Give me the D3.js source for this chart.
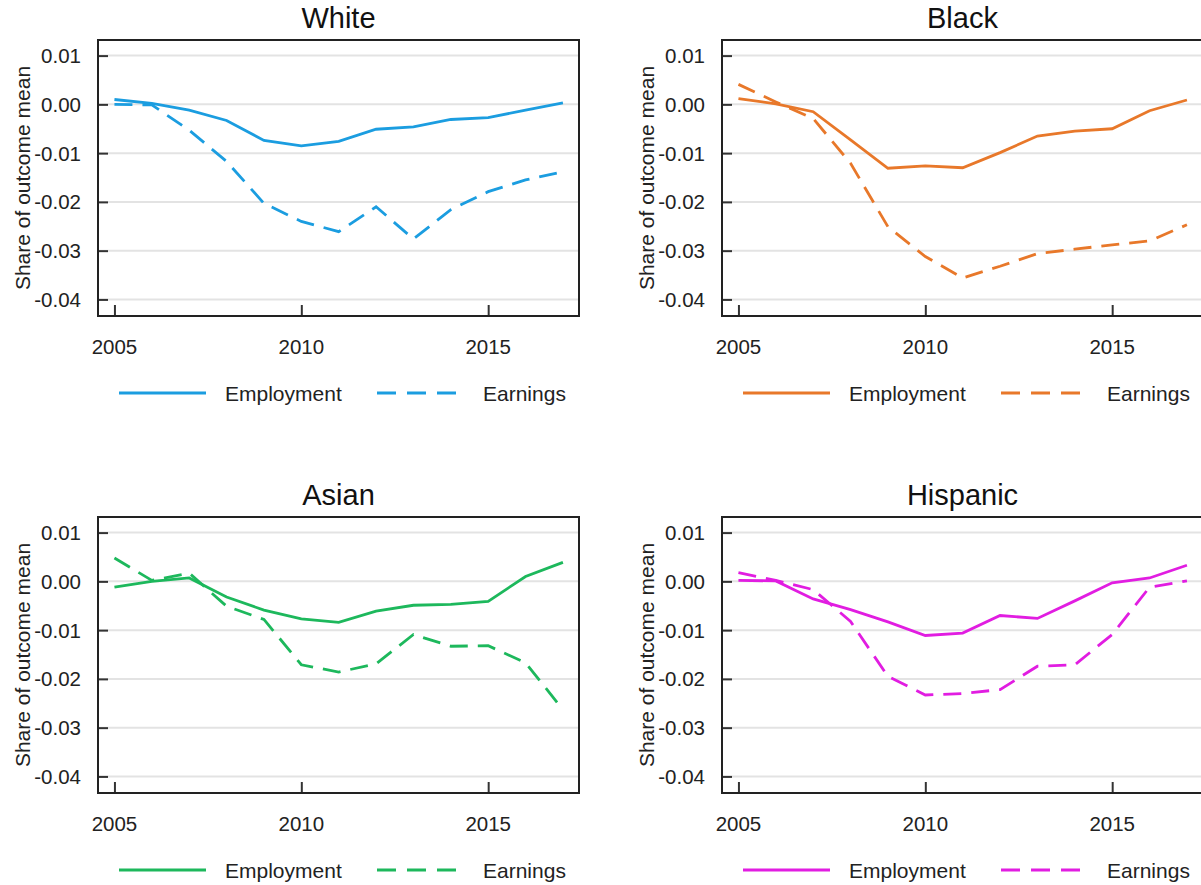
<!DOCTYPE html>
<html>
<head>
<meta charset="utf-8">
<script src="https://cdn.jsdelivr.net/npm/d3@7"></script>
<style>
  body { margin: 0; background: #fff; }
  svg { display: block; font-family: "Liberation Sans", Arial, sans-serif; }
</style>
</head>
<body>
<div class="chart"></div>
<script>
// data
var years = [2005, 2006, 2007, 2008, 2009, 2010, 2011, 2012, 2013, 2014, 2015, 2016, 2017];
var groups = ["White", "Black", "Asian", "Hispanic"];
var seriesNames = ["Employment", "Earnings"];
var xTicks = [2005, 2010, 2015];
var yTicks = [0.01, 0.00, -0.01, -0.02, -0.03, -0.04];

var whiteEmployment = [0.0010, 0.0002, -0.0012, -0.0033, -0.0074, -0.0085, -0.0076, -0.0051, -0.0046, -0.0031, -0.0027, -0.0012, 0.0003];
var whiteEarnings   = [0.0000, -0.0001, -0.0053, -0.0117, -0.0203, -0.0240, -0.0261, -0.0210, -0.0276, -0.0216, -0.0179, -0.0155, -0.0138];
var blackEmployment = [0.0012, 0.0001, -0.0015, -0.0073, -0.0131, -0.0126, -0.0130, -0.0099, -0.0065, -0.0055, -0.0050, -0.0013, 0.0009];
var blackEarnings   = [0.0041, 0.0005, -0.0029, -0.0121, -0.0251, -0.0312, -0.0356, -0.0332, -0.0306, -0.0297, -0.0288, -0.0280, -0.0247];
var asianEmployment = [-0.0012, 0.0000, 0.0007, -0.0032, -0.0059, -0.0077, -0.0084, -0.0061, -0.0049, -0.0047, -0.0041, 0.0010, 0.0039];
var asianEarnings   = [0.0048, 0.0002, 0.0017, -0.0051, -0.0078, -0.0171, -0.0186, -0.0169, -0.0109, -0.0133, -0.0132, -0.0167, -0.0263];
var hispEmployment  = [0.0002, 0.0001, -0.0036, -0.0058, -0.0083, -0.0111, -0.0106, -0.0070, -0.0076, -0.0040, -0.0003, 0.0007, 0.0033];
var hispEarnings    = [0.0018, 0.0002, -0.0017, -0.0082, -0.0195, -0.0233, -0.0230, -0.0222, -0.0174, -0.0171, -0.0109, -0.0012, 0.0001];

var colors = ["#1b9de0", "#e8782a", "#1db85c", "#e11de1"];

var panelData = [
    [whiteEmployment, whiteEarnings],
    [blackEmployment, blackEarnings],
    [asianEmployment, asianEarnings],
    [hispEmployment, hispEarnings]
];

function panel(svg, idx, left, top) {
    var width = 481;
    var height = 276;
    var color = colors[idx];

    var x = d3.scaleLinear()
                .domain([2004.56, 2017.43])
                .range([0, width]);

    var y = d3.scaleLinear()
                .domain([-0.0434, 0.0132])
                .range([height, 0]);

    var g = svg.append("g")
            .attr("transform", "translate(" + left + "," + top + ")");

    // grid
    g.append("g")
        .selectAll("line")
        .data(yTicks)
        .enter().append("line")
            .attr("x1", 0)
            .attr("x2", width)
            .attr("y1", function (d) { return y(d); })
            .attr("y2", function (d) { return y(d); })
            .attr("stroke", "#e3e3e3")
            .attr("stroke-width", 2);

    // axes, ticks point inward
    var yAxis = d3.axisRight(y)
                .tickValues(yTicks)
                .tickSize(10)
                .tickFormat("");
    g.append("g")
        .attr("class", "y axis")
        .call(yAxis);

    g.append("g")
        .selectAll("text")
        .data(yTicks)
        .enter().append("text")
            .attr("x", -17)
            .attr("y", function (d) { return y(d); })
            .attr("dy", "0.36em")
            .attr("text-anchor", "end")
            .attr("font-size", 20.5)
            .attr("fill", "#222")
            .text(function (d) { return d3.format(".2f")(d).replace("\u2212", "-"); });

    var xAxis = d3.axisTop(x)
                .tickValues(xTicks)
                .tickSize(11)
                .tickFormat("");
    g.append("g")
        .attr("class", "x axis")
        .attr("transform", "translate(0," + height + ")")
        .call(xAxis);

    g.append("g")
        .selectAll("text")
        .data(xTicks)
        .enter().append("text")
            .attr("x", function (d) { return x(d); })
            .attr("y", height + 31)
            .attr("dy", "0.36em")
            .attr("text-anchor", "middle")
            .attr("font-size", 20.5)
            .attr("fill", "#222")
            .text(function (d) { return d; });

    g.selectAll(".axis path").remove();
    g.selectAll(".axis line")
        .attr("stroke", "#333")
        .attr("stroke-width", 2);

    // frame
    g.append("rect")
        .attr("x", 0)
        .attr("y", 0)
        .attr("width", width)
        .attr("height", height)
        .attr("fill", "none")
        .attr("stroke", "#222")
        .attr("stroke-width", 2);

    // lines
    var line = d3.line()
            .x(function (d, i) { return x(years[i]); })
            .y(function (d) { return y(d); });

    panelData[idx].forEach(function (vals, s) {
        g.append("path")
            .datum(vals)
            .attr("d", line)
            .attr("fill", "none")
            .attr("stroke", color)
            .attr("stroke-width", 2.8)
            .attr("stroke-dasharray", s === 1 ? "18,10" : null);
    });

    // title
    g.append("text")
        .attr("x", width / 2)
        .attr("y", -22)
        .attr("dy", "0.36em")
        .attr("text-anchor", "middle")
        .attr("font-size", 29)
        .attr("fill", "#111")
        .text(groups[idx]);

    // y label
    g.append("text")
        .attr("transform", "translate(" + (-76) + "," + (height / 2) + ") rotate(-90)")
        .attr("dy", "0.36em")
        .attr("text-anchor", "middle")
        .attr("font-size", 21)
        .attr("fill", "#222")
        .text("Share of outcome mean");

    // legend
    var ly = height + 77;
    var legendItems = [
        {x1: 21, x2: 108, tx: 127, dash: null},
        {x1: 279, x2: 359, tx: 385, dash: "19,11"}
    ];
    legendItems.forEach(function (d, s) {
        g.append("line")
            .attr("x1", d.x1)
            .attr("x2", d.x2)
            .attr("y1", ly)
            .attr("y2", ly)
            .attr("stroke", color)
            .attr("stroke-width", 2.8)
            .attr("stroke-dasharray", d.dash);
        g.append("text")
            .attr("x", d.tx)
            .attr("y", ly)
            .attr("dy", "0.36em")
            .attr("font-size", 21)
            .attr("fill", "#222")
            .text(seriesNames[s]);
    });
}

function chart() {
    var svg = d3.select(".chart").append("svg")
            .attr("width", 1201)
            .attr("height", 885);

    var lefts = [98, 722];
    var tops = [40, 517];
    groups.forEach(function (name, i) {
        panel(svg, i, lefts[i % 2], tops[Math.floor(i / 2)]);
    });
}

chart();
</script>
</body>
</html>
